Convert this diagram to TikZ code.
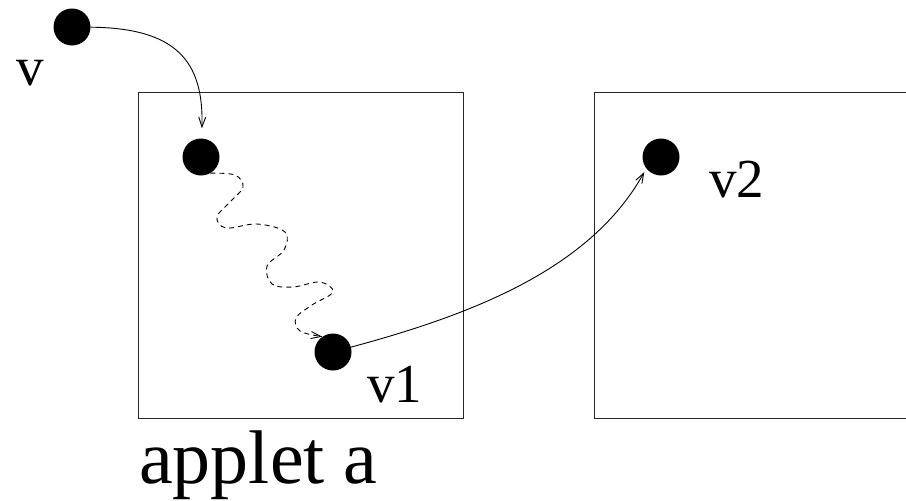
\documentclass[tikz,border=0pt]{standalone}
\usepackage{fontspec}
\setmainfont{Liberation Serif}
\usetikzlibrary{arrows.meta}
\begin{document}
\begin{tikzpicture}[x=1pt,y=-1pt,
  dot/.style={circle,fill=black,inner sep=0pt,minimum size=37pt},
  lbl/.style={anchor=base west,inner sep=0pt,font=\fontsize{55}{60}\selectfont},
  boxline/.style={line width=1pt,draw=black!85},
  arr/.style={line width=0.9pt,-{Straight Barb[length=10pt,width=7pt,line width=0.9pt]}},
  wavy/.style={arr,dash pattern=on 5pt off 4pt}]
\useasboundingbox (0,0) rectangle (906,501);
% applets
\draw[boxline] (138,92) rectangle (463,418);
\draw[boxline] (906,92) -- (594,92) -- (594,418) -- (906,418);
% dots
\node[dot] (v)  at (72,27) {};
\node[dot] (d1) at (201,157) {};
\node[dot] (v1) at (333,352) {};
\node[dot] (v2) at (661,157) {};
% labels
\node[lbl] (lv)  at (16,85) {v};
\node[lbl] (lv1) at (367,402) {v1};
\node[lbl] (lv2) at (709,197) {v2};
\node[anchor=base west,inner sep=0pt,font=\fontsize{76}{80}\selectfont] (la) at (139,483) {applet a};
% connectors
\draw[arr,shorten >=10pt] (v) .. controls (175,28) and (204,60) .. (d1);
\draw[wavy] plot[smooth,tension=0.6] coordinates {(d1.-60) (235,175) (243,187) (230,202) (217,217) (226,228) (257,224) (285,232) (284,250) (267,266) (272,284) (293,287) (320,282) (333,292) (312,305) (296,318) (300,331) (v1.125)};
\draw[arr,shorten >=4pt] (v1) .. controls (470,315) and (590,270) .. (v2.218);
\end{tikzpicture}
\end{document}
